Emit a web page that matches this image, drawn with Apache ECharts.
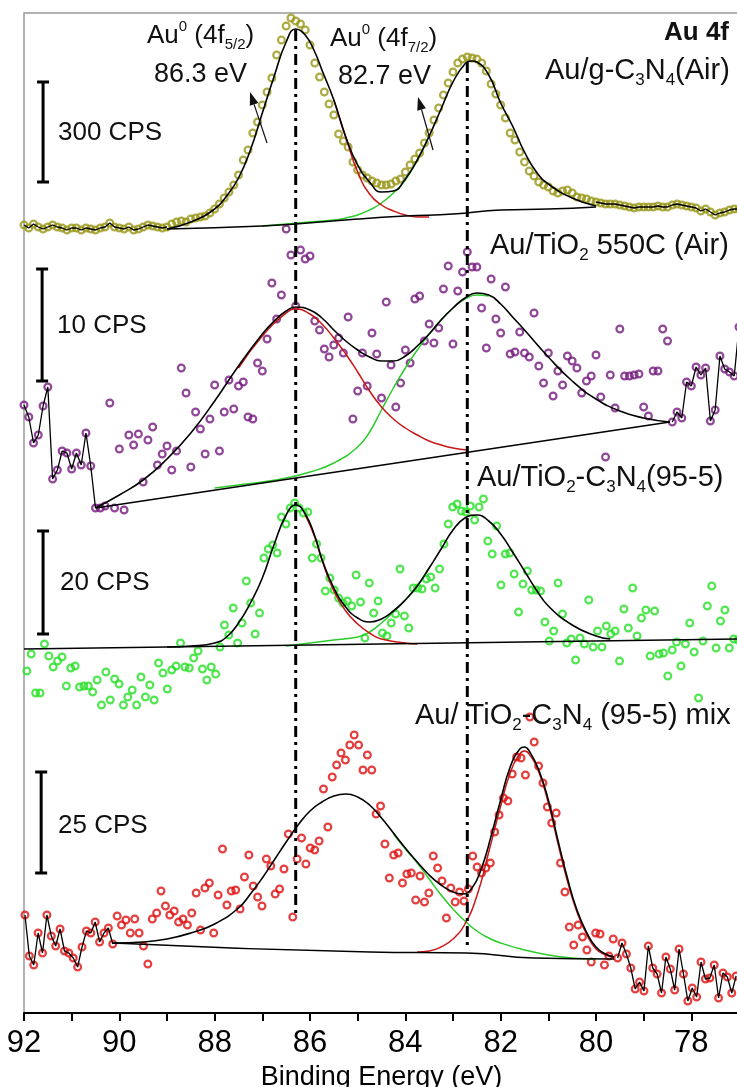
<!DOCTYPE html>
<html><head><meta charset="utf-8">
<script src="https://cdn.jsdelivr.net/npm/echarts@6/dist/echarts.min.js"></script>
<style>html,body{margin:0;padding:0;background:#fff}#c{width:737px;height:1087px}</style>
</head><body><div id="c"></div>
<script>
const FONT = '"Liberation Sans", Arial, Helvetica, sans-serif';

// ---------- x-axis ticks ----------
const xMin = 77, xMax = 92, xInterval = 1;

// ---------- measurement grids (binding energy start / step, eV) ----------
const p1Start = 92.0, p1Step = 0.1;
const p2Start = 92.0, p2Step = 0.1;
const p3Start = 91.94, p3Step = 0.0921;
const p4Start = 91.98, p4Step = 0.0921;

// vertical offsets that stack the four spectra (a.u.)
const offsets = [773, 503, 313, 13];

// ---------- spectrum 1 : Au/g-C3N4 (Air) ----------
const p1Counts = [15,12,16,13,11,13,15,13,12,10, 12,12,10,12,11,10,12,13,17,13,
 12,11,13,10,11,13,15,14,13,12, 13,16,18,19,18,21,22,23,24,27,
 31,36,42,48,55,65,80,90,107,118, 135,148,162,185,200,214,222,219,216,210,
 195,177,163,148,136,125,106,99,93,78, 70,65,62,59,57,55,55,56,59,61,
 68,75,81,87,97,107,120,132,145,157, 168,177,181,183,182,181,177,169,156,146,
 135,122,107,100,88,78,69,64,58,55, 53,49,47,49,50,47,43,42,41,39,
 38,37,36,36,36,35,34,33,32,33, 33,33,33,34,33,33,35,36,35,34,
 33,32,29,31,28,25,27,28,30,31,31];
const p1Env = [[89.0,11],[88.5,18],[88.0,31],[87.75,44],[87.5,62],[87.25,90],[87.0,127],[86.75,164],[86.5,198],[86.3,211],[86.1,205],[85.9,188],[85.75,170],[85.5,140],[85.25,103],[85.0,75],[84.75,58],[84.5,48],[84.25,49],[84.0,61],[83.75,80],[83.5,104],[83.25,131],[83.0,158],[82.75,176],[82.6,179],[82.5,178],[82.25,165],[82.0,137],[81.75,114],[81.5,88],[81.25,68],[81.0,56],[80.5,42],[80.0,34]];
const p1Bg = [[89.0,11],[87.0,14],[86.3,16],[85.0,21],[84.0,24],[83.0,26],[82.0,30],[81.0,31],[80.0,33]];
const p1Red = [[85.5,140],[85.25,103],[85.0,68],[84.75,46],[84.5,35],[84.25,29],[84.0,25],[83.75,23],[83.5,23]];
const p1Green = [[87.0,14],[86.5,16],[86.0,18],[85.5,20],[85.25,22],[85.0,25],[84.75,30],[84.5,37],[84.25,47],[84.0,60],[83.75,80],[83.5,104]];

// ---------- spectrum 2 : Au/TiO2 550C (Air) ----------
const p2Counts = [105,93,67,75,104,123,31,40,59,57, 41,57,45,77,44,2,2,4,107,2,
 61,0,75,65,76,28,70,83,45,56, 64,40,59,142,117,43,98,81,56,91,
 125,59,98,130,101,124,128,93,91,147, 139,171,227,191,215,281,255,204,260,251,
 254,189,180,161,153,165,172,157,193,91, 119,157,124,177,156,112,208,145,103,127,
 160,147,211,214,169,186,167,182,221,244, 166,219,238,258,243,243,202,162,231,191,
 177,223,156,158,178,157,153,197,144,127, 157,114,139,125,154,149,142,117,129,134,
 155,113,53,135,102,181,134,134,135,136, 103,94,139,139,181,169,88,98,92,128,
 124,143,135,142,89,100,154,141,138,134,183];
const p2Env = [[90.5,2],[90.0,15],[89.5,30],[89.0,51],[88.5,77],[88.0,109],[87.5,144],[87.0,176],[86.75,189],[86.5,199],[86.3,203],[86.0,200],[85.75,192],[85.5,180],[85.25,169],[85.0,160],[84.75,153],[84.5,149],[84.25,149],[84.0,154],[83.75,164],[83.5,176],[83.25,190],[83.0,202],[82.75,212],[82.5,217],[82.25,215],[82.0,206],[81.75,193],[81.5,180],[81.0,153],[80.5,129],[80.0,111],[79.5,99],[79.0,92],[78.45,88]];
const p2Bg = [[90.5,2],[78.45,88]];
const p2Red = [[87.5,142],[87.0,174],[86.5,197],[86.3,201],[86.0,196],[85.75,186],[85.5,172],[85.25,156],[85.0,138],[84.75,119],[84.5,103],[84.25,91],[84.0,82],[83.75,75],[83.5,69],[83.25,65],[83.0,62],[82.7,60]];
const p2Green = [[88.0,22],[87.5,25],[87.0,28],[86.5,32],[86.0,38],[85.5,47],[85.0,63],[84.75,78],[84.5,100],[84.25,122],[84.0,142],[83.75,160],[83.5,176],[83.25,190],[83.0,202],[82.75,211],[82.5,215],[82.25,214]];

// ---------- spectrum 3 : Au/TiO2-C3N4 (95-5) ----------
const p3Counts = [29,46,7,7,56,44,33,39,43,14, 32,34,13,14,14,8,20,-5,28,0,
 21,16,-5,3,10,-5,23,3,15,0, 37,27,11,30,34,57,33,32,42,49,
 31,20,33,26,53,75,65,92,57,77, 119,97,66,87,142,151,155,147,183,176,
 192,197,192,187,188,142,156,142,109,122, 110,102,97,99,94,125,98,62,117,87,
 99,67,64,77,86,131,84,72,112,112, 111,121,123,112,131,156,176,193,196,189,
 188,194,180,193,201,159,146,174,115,146, 147,126,88,116,129,110,110,109,78,59,
 69,117,86,57,61,40,62,56,100,53, 69,53,74,66,69,39,91,72,112,64,
 82,90,44,89,46,47,24,50,58,34, 56,77,48,2,59,94,114,52,79,90, 52,61,60];
const p3Env = [[89.0,53],[88.5,54],[88.0,57],[87.75,63],[87.5,77],[87.25,97],[87.0,122],[86.75,156],[86.5,185],[86.3,195],[86.1,186],[85.9,164],[85.75,141],[85.5,112],[85.25,93],[85.0,82],[84.75,78],[84.5,81],[84.25,89],[84.0,100],[83.75,114],[83.5,132],[83.25,151],[83.0,170],[82.75,182],[82.5,185],[82.25,179],[82.0,166],[81.75,148],[81.5,129],[81.25,110],[81.0,94],[80.5,75],[80.0,64],[79.7,61]];
const p3Bg = [[92.0,51],[77.0,61]];
const p3Red = [[86.1,185],[85.9,163],[85.75,140],[85.5,109],[85.25,89],[85.0,76],[84.75,67],[84.5,61],[84.0,57],[83.75,56]];
const p3Green = [[86.5,54],[86.0,57],[85.5,60],[85.0,63],[84.75,68],[84.5,77],[84.25,88],[84.0,100],[83.75,114],[83.5,132]];

// ---------- spectrum 4 : Au/ TiO2-C3N4 (95-5) mix ----------
const p4Counts = [85,44,35,67,47,85,64,54,71,49, 47,42,33,53,69,67,78,58,67,72,
 56,84,75,80,67,81,67,54,36,81, 87,109,94,85,89,78,81,75,87,107,
 70,112,117,67,105,151,95,109,110,91, 123,145,114,103,94,141,134,106,111,131,
 166,83,141,162,136,152,150,159,211,173, 223,235,247,240,255,265,255,230,245,230,
 186,194,156,122,145,147,117,126,127,100, 124,98,107,144,132,119,82,112,98,108,
 99,111,144,133,127,132,137,168,185,202, 199,226,243,242,225,283,258,234,217,193,
 177,187,137,108,73,55,75,63,50,38, 67,66,35,44,61,42,57,46,32,11,
 18,9,54,32,26,7,43,31,10,51, 26,-1,12,3,38,21,22,35,2,27, 23,7,24];
const p4Env = [[90.13,57],[89.5,58],[89.0,61],[88.5,67],[88.0,76],[87.5,92],[87.25,106],[87.0,122],[86.75,140],[86.5,158],[86.25,175],[86.0,189],[85.75,198],[85.5,204],[85.25,206],[85.0,203],[84.75,195],[84.5,182],[84.25,167],[84.0,152],[83.75,138],[83.5,125],[83.25,115],[83.0,108],[82.8,106],[82.6,112],[82.4,132],[82.2,164],[82.0,200],[81.8,233],[81.6,251],[81.5,253],[81.4,249],[81.2,230],[81.0,200],[80.8,160],[80.6,122],[80.4,90],[80.2,68],[80.0,53],[79.8,46],[79.62,43]];
const p4Bg = [[90.13,57],[84.74,48],[82.71,47],[81.3,42],[79.62,41]];
const p4Green = [[84.25,166],[84.0,151],[83.75,137],[83.5,121],[83.25,105],[83.0,91],[82.75,79],[82.5,69],[82.25,62],[82.0,57],[81.5,50],[81.0,45],[80.5,42],[80.0,41]];
const p4Red = [[83.75,48],[83.5,49],[83.25,53],[83.0,61],[82.75,76],[82.5,104],[82.25,148],[82.0,194],[81.8,227],[81.6,246],[81.5,249],[81.4,246],[81.2,228],[81.0,197],[80.8,157],[80.6,119],[80.4,88],[80.2,66],[80.0,51],[79.8,45],[79.62,43]];

// index ranges of the raw-data segments joined by a black line (outside the fit window)
const dataLineRanges = [[[0,30],[120,150]], [[0,15],[136,150]], [], [[0,20],[135,162]]];

// scale bars: [energy, low, high] in each spectrum's units
const scaleBars = [[91.6,58,158],[91.62,129,241],[91.6,66,169],[91.64,127,228]];
const scaleLabels = ['300 CPS','10 CPS','20 CPS','25 CPS'];

// reference peak positions [eV, top value, bottom value]
const refLines = [[86.3,983,98],[82.7,951,63]];

// ---------- styles ----------
const markerColors = ['#999617','#74197e','#27e027','#dd1010'];
const redFit = '#c81818', greenFit = '#2bcc2b';

const starts = [p1Start,p2Start,p3Start,p4Start];
const steps = [p1Step,p2Step,p3Step,p4Step];
const counts = [p1Counts,p2Counts,p3Counts,p4Counts];
const envs = [p1Env,p2Env,p3Env,p4Env];
const bgs = [p1Bg,p2Bg,p3Bg,p4Bg];
const reds = [p1Red,p2Red,p3Red,p4Red];
const greens = [p1Green,p2Green,p3Green,p4Green];

const series = [];
function pts(k){ return counts[k].map((v,i)=>[+(starts[k]-i*steps[k]).toFixed(4), v+offsets[k]]); }
function shift(arr,k){ return arr.map(([e,v])=>[e, v+offsets[k]]); }
function lineS(data, color, width, z, smooth){
  return {type:'line', data, symbol:'none', showSymbol:false, smooth: smooth||false,
    lineStyle:{color, width}, z, silent:true, animation:false};
}
for (let k=0;k<4;k++){
  const d = pts(k);
  series.push({type:'scatter', data:d, symbol:'circle', symbolSize:6.8,
    itemStyle:{color:'rgba(255,255,255,0)', borderColor:markerColors[k], borderWidth:2.2},
    z:2, silent:true, animation:false});
  series.push(lineS(shift(greens[k],k), greenFit, 1.5, 3, 0.5));
  series.push(lineS(shift(reds[k],k), redFit, 1.5, 3, 0.5));
  series.push(lineS(shift(bgs[k],k), '#000', 1.5, 4, 0.5));
  series.push(lineS(shift(envs[k],k), '#000', 1.6, 5, 0.5));
  dataLineRanges[k].forEach(([a,b])=>{
    series.push(lineS(d.slice(a,b+1), '#000', 1.3, 5, false));
  });
}
refLines.forEach(([e,t,b])=>{
  series.push({type:'line', data:[[e,t],[e,b]], symbol:'none', silent:true, animation:false, z:6,
    lineStyle:{color:'#000', width:3, type:[11,5,3,5]}});
});
series.push({type:'custom', silent:true, animation:false, z:7, clip:false,
  encode:{x:0, y:[1,2]},
  data: scaleBars.map((b,k)=>[b[0], b[1]+offsets[k], b[2]+offsets[k]]),
  renderItem:(params, api)=>{
    const x=api.value(0), lo=api.value(1), hi=api.value(2);
    const a=api.coord([x,lo]), b=api.coord([x,hi]); const w=6;
    const st={stroke:'#000', lineWidth:3};
    return {type:'group', children:[
      {type:'line', shape:{x1:a[0],y1:a[1],x2:b[0],y2:b[1]}, style:st},
      {type:'line', shape:{x1:a[0]-w,y1:a[1],x2:a[0]+w,y2:a[1]}, style:st},
      {type:'line', shape:{x1:b[0]-w,y1:b[1],x2:b[0]+w,y2:b[1]}, style:st}
    ]};
  }});

// ---------- annotation text ----------
function richSet(fs, sfs){
  return {
    m:{fontSize:fs, fontFamily:FONT, lineHeight:Math.round(fs*1.25), fill:'#111'},
    sp:{fontSize:sfs, fontFamily:FONT, lineHeight:Math.round(fs*0.85), verticalAlign:'top', fill:'#111'},
    sb:{fontSize:sfs, fontFamily:FONT, lineHeight:12, verticalAlign:'bottom', fill:'#111'}
  };
}
function txt(x, y, text, fs, sfs, extra){
  return {type:'text', x, y, z:100, silent:true,
    style:Object.assign({text, rich:richSet(fs,sfs), fill:'#111', align:'left', verticalAlign:'middle',
      fontSize:fs, fontFamily:FONT}, extra||{})};
}
const graphics = [
  txt(147, 36, '{m|Au}{sp|0}{m| (4f}{sb|5/2}{m|)}', 26, 15),
  txt(154, 75, '{m|86.3 eV}', 27, 15),
  txt(330, 39, '{m|Au}{sp|0}{m| (4f}{sb|7/2}{m|)}', 26, 15),
  txt(338, 77, '{m|82.7 eV}', 27, 15),
  {type:'text', x:729, y:33, z:100, silent:true, style:{text:'Au 4f', fontSize:26, fontWeight:'bold', fontFamily:FONT, fill:'#111', align:'right', verticalAlign:'middle'}},
  txt(545, 71, '{m|Au/g-C}{sb|3}{m|N}{sb|4}{m|(Air)}', 29, 17),
  txt(490, 246, '{m|Au/TiO}{sb|2}{m| 550C (Air)}', 29, 17),
  txt(477, 478, '{m|Au/TiO}{sb|2}{m|-C}{sb|3}{m|N}{sb|4}{m|(95-5)}', 29, 17),
  txt(415, 716, '{m|Au/ TiO}{sb|2}{m|-C}{sb|3}{m|N}{sb|4}{m| (95-5) mix}', 29, 17)
];
const cpsPos = [[58,133],[57,326],[60,583],[58,826]];
scaleLabels.forEach((s,k)=>graphics.push(txt(cpsPos[k][0], cpsPos[k][1], '{m|'+s+'}', 26, 15)));
// arrows
function arrow(x1,y1,x2,y2){
  const dx=x2-x1, dy=y2-y1, L=Math.hypot(dx,dy), ux=dx/L, uy=dy/L;
  const bx=x2-ux*13, by=y2-uy*13, px=-uy*4.5, py=ux*4.5;
  return [
    {type:'line', z:100, silent:true, shape:{x1,y1,x2:bx,y2:by}, style:{stroke:'#111', lineWidth:1.2}},
    {type:'polygon', z:100, silent:true, shape:{points:[[x2,y2],[bx+px,by+py],[bx-px,by-py]]}, style:{fill:'#111'}}
  ];
}
graphics.push(...arrow(267,143,250,92), ...arrow(433,150,418,97));

const chart = echarts.init(document.getElementById('c'), null, {renderer:'canvas'});
chart.setOption({
  animation:false,
  backgroundColor:'#fff',
  grid:{left:24, top:13, width:715, height:1000, outerBoundsMode:'none', containLabel:false,
    show:true, borderColor:'#9a9a9a', borderWidth:1.5, backgroundColor:'rgba(0,0,0,0)'},
  xAxis:{type:'value', min:xMin, max:xMax, interval:xInterval, inverse:true,
    axisLine:{show:true, onZero:false, lineStyle:{color:'#000', width:2}},
    axisTick:{show:true, length:8, inside:false, lineStyle:{color:'#000', width:2}},
    splitLine:{show:false},
    axisLabel:{fontSize:31, color:'#000', margin:15, fontFamily:FONT, showMinLabel:true, showMaxLabel:true,
      formatter:v=> (Math.round(v)%2===0 && v<92.01 && v>77.5) ? String(v) : ''},
    name:'Binding Energy (eV)', nameLocation:'middle', nameGap:49,
    nameTextStyle:{fontSize:27, color:'#000', fontFamily:FONT}},
  yAxis:{type:'value', min:0, max:1000, show:false},
  series,
  graphic:graphics
});
</script></body></html>
